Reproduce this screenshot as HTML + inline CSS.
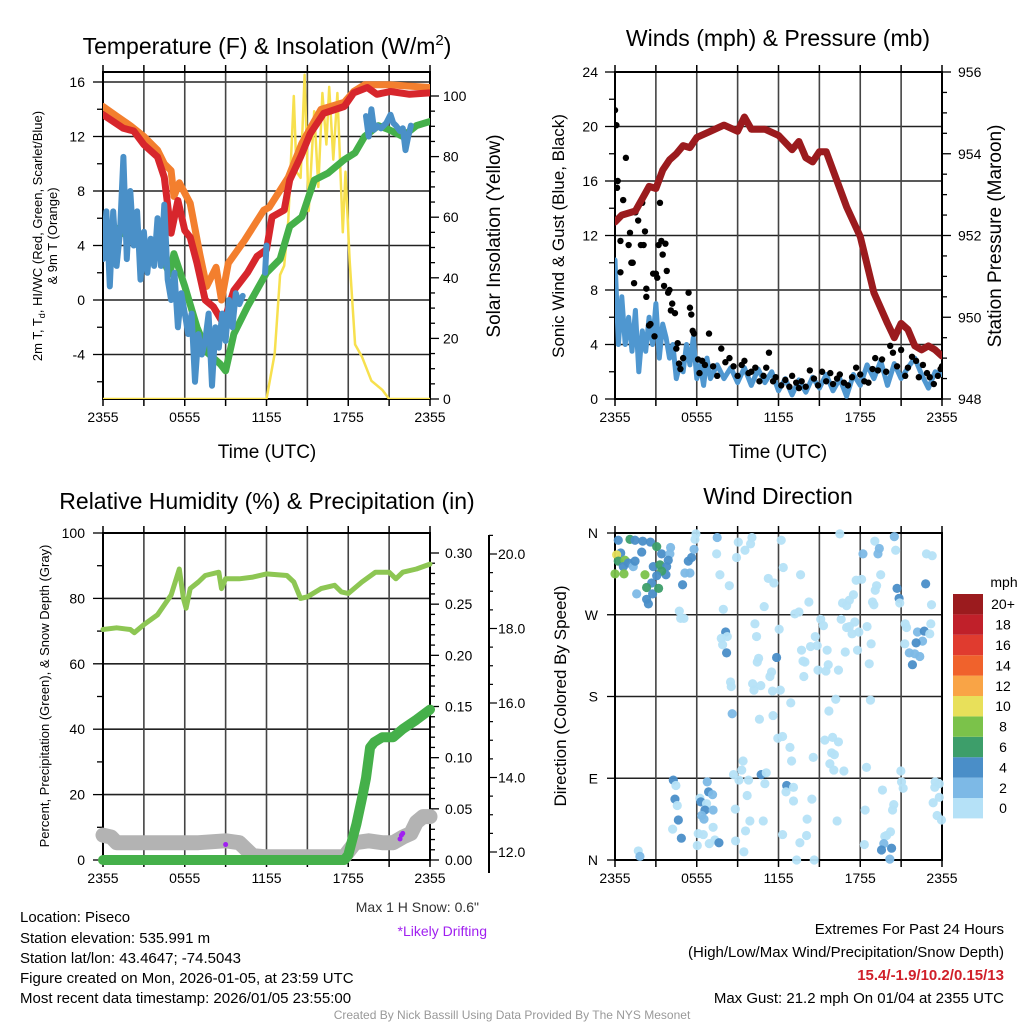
<!DOCTYPE html>
<html><head><meta charset="utf-8"><style>
html,body{margin:0;padding:0;background:#fff;}
svg{display:block;font-family:"Liberation Sans",sans-serif;}
</style></head><body>
<svg id="s" width="1024" height="1024" viewBox="0 0 1024 1024" xmlns="http://www.w3.org/2000/svg">
<g id="static">
<text x="267" y="54" font-size="23" text-anchor="middle">Temperature (F) &amp; Insolation (W/m<tspan dy="-9" font-size="15">2</tspan><tspan dy="9">)</tspan></text>
<text x="778" y="46" font-size="23" text-anchor="middle">Winds (mph) &amp; Pressure (mb)</text>
<text x="267" y="509" font-size="23" text-anchor="middle">Relative Humidity (%) &amp; Precipitation (in)</text>
<text x="778" y="504" font-size="23" text-anchor="middle">Wind Direction</text>
<text transform="translate(42,236) rotate(-90)" font-size="13" text-anchor="middle">2m T, T<tspan dy="3" font-size="9">d</tspan><tspan dy="-3">, HI/WC (Red, Green, Scarlet/Blue)</tspan></text>
<text transform="translate(57,236) rotate(-90)" font-size="13" text-anchor="middle">&amp; 9m T (Orange)</text>
<text transform="translate(500,236) rotate(-90)" font-size="19" text-anchor="middle">Solar Insolation (Yellow)</text>
<text x="267" y="458" font-size="19" text-anchor="middle">Time (UTC)</text>
<text transform="translate(564,236) rotate(-90)" font-size="17" text-anchor="middle">Sonic Wind &amp; Gust (Blue, Black)</text>
<text transform="translate(1001,236) rotate(-90)" font-size="19" text-anchor="middle">Station Pressure (Maroon)</text>
<text x="778" y="458" font-size="19" text-anchor="middle">Time (UTC)</text>
<text transform="translate(49,696) rotate(-90)" font-size="13" text-anchor="middle">Percent, Precipitation (Green), &amp; Snow Depth (Gray)</text>
<text transform="translate(566,696) rotate(-90)" font-size="17" text-anchor="middle">Direction (Colored By Speed)</text>
<text x="479" y="912" font-size="14" text-anchor="end" fill="#333">Max 1 H Snow: 0.6"</text>
<text x="487" y="936" font-size="14" text-anchor="end" fill="#a020f0">*Likely Drifting</text>
<g font-size="15">
<text x="20" y="922">Location: Piseco</text>
<text x="20" y="943">Station elevation: 535.991 m</text>
<text x="20" y="963">Station lat/lon: 43.4647; -74.5043</text>
<text x="20" y="983">Figure created on Mon, 2026-01-05, at 23:59 UTC</text>
<text x="20" y="1003">Most recent data timestamp: 2026/01/05 23:55:00</text>
</g>
<g font-size="15" text-anchor="end">
<text x="1004" y="934">Extremes For Past 24 Hours</text>
<text x="1004" y="957">(High/Low/Max Wind/Precipitation/Snow Depth)</text>
<text x="1004" y="980" fill="#d0202a" font-weight="bold">15.4/-1.9/10.2/0.15/13</text>
<text x="1004" y="1003">Max Gust: 21.2 mph On 01/04 at 2355 UTC</text>
</g>
<text x="512" y="1019" font-size="12" fill="#999" text-anchor="middle">Created By Nick Bassill Using Data Provided By The NYS Mesonet</text>
</g>
</svg>
<script>
// ---------- data ----------
const timeTickLabels = ["2355","0555","1155","1755","2355"];
const tempHours = [0,1.5,2.25,3,4,4.5,5,5.5,6,6.4,6.9,7.5,8.1,8.7,9,9.6,10.6,11.3,12,12.4,13.3,13.7,14.5,15.2,16.2,17.7,18.4,19.4,20.1,21.1,22.5,24];
const redTemp = [13.6,12.6,12.4,11.4,10.5,9.0,4.9,7.3,5.1,4.6,2.7,0,-0.5,-1.5,-1.2,0.7,2.0,3.2,3.7,6.1,6.6,8.8,10.5,12.2,13.7,14.2,15.2,15.6,15.1,15.3,15.1,15.2];
const orangeHours = [0,1,2,3,4,4.5,5,5.2,5.6,6.4,7.1,7.6,8.3,8.7,9.2,10.4,11.8,12.2,13.6,14.6,16,17.7,18.4,19.2,21,24];
const orangeTemp = [14.2,13.5,12.8,12,11,10,9.5,7.6,8.6,7.1,3.4,1.0,2.4,0.0,2.7,4.4,6.6,6.8,9.0,11.5,14,14.5,15.3,15.8,15.8,15.6];
const greenHours = [0,1.5,3,4,4.9,5.2,6,6.9,7.7,8.6,9,9.6,10.6,12,13,13.7,14.6,15.5,16.5,17.7,18.5,19.2,20.2,21,22,23,24];
const greenTemp = [5.9,4.9,3.8,3.8,1.9,3.4,1.0,-2.0,-3.9,-4.7,-5.2,-2.5,-0.5,2.0,3.0,5.4,6.1,8.8,9.3,10.3,10.8,12.0,12.8,12.5,12,12.8,13.1];
const blueTempHours = [0,.25,.5,.75,1,1.25,1.5,1.75,2,2.25,2.5,2.75,3,3.25,3.5,3.75,4,4.25,4.5,4.75,5,5.25,5.5,5.75,6,6.25,6.5,6.75,7,7.25,7.5,7.75,8,8.25,8.5,8.75,9,9.25,9.5,9.75,10,10.25,null,11.9,12,null,19.3,19.5,19.7,19.9,20.1,20.4,20.8,21.1,21.3,21.5,21.8,22.0,22.2,22.4,22.6];
const blueTemp = [3,6.5,1,6.5,2.5,5,10.5,3,8,4,6.5,1.5,5,2,4.5,2.5,6,2.5,7,1.5,0,2,-2,0.5,-1,-2.5,-1,-6,-2.5,-4,-3,-1,-6.3,-2,-3.5,-1,-3,0,-2,0.5,-0.3,0.3,null,2,4,null,13.5,12,14,12.5,12.8,12.6,13.0,13.6,13.0,12.8,12.4,12.6,11.0,12.0,12.8];
const solarHours = [0,12,12.6,13,13.3,13.6,14,14.2,14.5,14.8,15.1,15.5,15.8,16.1,16.4,16.6,16.9,17.2,17.6,17.8,18.1,18.5,19,19.7,20.5,21,24];
const solarVals = [0,0,15,41,44,59,100,75,73,107,62,95,70,101,84,103,79,101,55,75,46,18,14,6,3,0,0];

const pressHours = [0,0.5,1.5,2,2.5,3,3.5,4,4.5,5,5.5,6,7,8,9,9.5,10,11,12,13,13.5,14,14.5,15,15.5,16,17,18,19,20,20.5,21,21.5,22,22.5,23,23.5,24];
const pressVals = [952.33,952.5,952.6,952.9,953.2,953.15,953.6,953.85,954.0,954.2,954.15,954.4,954.55,954.7,954.55,954.9,954.6,954.6,954.45,954.1,954.3,953.9,953.8,954.05,954.05,953.6,952.7,951.97,950.6,949.85,949.5,949.85,949.7,949.3,949.2,949.3,949.2,949.05];
const windHours = [0,.25,.5,.75,1,1.25,1.5,1.75,2,2.25,2.5,2.75,3,3.25,3.5,3.75,4,4.25,4.5,4.75,5,5.25,5.5,5.75,6,6.25,6.5,6.75,7,7.5,8,8.5,9,9.5,10,10.5,11,11.5,12,12.5,13,13.5,14,14.5,15,15.5,16,16.5,17,17.5,18,18.5,19,19.5,20,20.5,21,21.5,22,22.5,23,23.5,24];
const windVals = [10.2,4,7.5,4,6,3.5,6.5,2,5,3.5,6,4,7,3,5.5,4.5,3,4,1.5,2.5,2,4,2.5,4.5,1.5,2.5,1,3,1.5,2.5,1.5,2.3,1.2,2.3,1,2.2,1.2,2,0.6,1.5,0.3,1.4,0.5,1.6,0.8,1.8,0.6,1.5,0.2,1.8,1.0,2.5,1.5,2.8,1.0,2.6,1.5,2.3,3.0,1.8,0.8,2.0,1.8];
const gustHours = [0,0.1,0.15,0.2,0.4,0.4,0.6,0.8,1.1,1,1.2,1.3,1.4,1.5,1.7,1.9,2.0,2.1,2.2,2.3,2.3,2.5,2.6,2.8,2.9,3.1,3.0,3.2,3.3,3.4,3.5,3.6,3.8,3.7,3.9,4.0,4.1,4.2,4.4,4.5,4.6,4.7,4.8,5.0,5.4,5.5,5.6,5.7,5.8,6.1,6.2,6.4,6.6,6.9,7.2,7.5,7.8,8.1,8.4,8.7,9.0,9.3,9.5,9.8,10,10.3,10.6,10.9,11.1,11.3,11.6,11.8,12.2,12.5,12.8,13.0,13.3,13.5,13.7,14.0,14.3,14.6,14.9,15.2,15.5,15.8,16.0,16.3,16.5,16.8,17.1,17.4,17.7,18.0,18.3,18.6,18.9,19.1,19.3,19.6,19.9,20.2,20.4,20.7,21.0,21.3,21.5,21.8,22.1,22.3,22.6,22.9,23.1,23.4,23.7,23.9,24];
const gustVals = [21.2,20.1,15.5,16,9.3,11.6,14.6,17.7,12.2,11.3,10,10,8.5,13.7,13.1,11.3,14.4,11.3,12.3,7.5,8.1,5.4,5.5,9.2,4.6,8.9,9.2,11.3,14.4,11.6,10.6,8.3,9.4,11.4,7.8,8.0,6.5,7.0,6.3,3.7,4.1,2.6,2.2,3.0,7.8,6.7,6.2,5.0,4.8,2.9,1.9,2.8,2.5,4.8,2.4,1.7,3.7,2.7,3.0,2.4,1.7,2.5,2.8,1.9,2.0,2.3,1.3,1.7,2.3,3.4,1.3,1.6,1.0,1.4,0.9,1.7,1.2,0.8,1.3,0.9,2.1,1.5,1.0,2.0,1.3,1.9,1.1,1.5,1.8,1.2,1.0,1.6,2.3,1.8,1.3,1.2,2.2,3.0,2.1,2.9,2.0,3.9,3.4,2.4,3.6,1.7,2.3,3.1,2.8,1.6,2.5,1.9,1.6,1.1,1.7,2.2,2.4];

const rhHours = [0,1,2,2.3,3,4,5,5.6,5.9,6.1,6.4,7,7.5,8.5,8.7,9,10,11,12,13.5,14,14.5,15,16,17,17.5,18,19,20,21,21.5,22,23,24];
const rhVals = [70.5,71,70.5,69.5,72,75,81,89,80,77,83,85,87,88,83,86,86,86.5,87.5,87,85,80,80.5,83,84,82,81.5,85,88,88,86,88,89,90.5];
const precipHours = [0,17.7,18,18.3,18.6,19,19.3,19.6,19.9,20.5,21.3,22,23,24];
const precipVals = [0,0,0.005,0.02,0.035,0.06,0.08,0.11,0.115,0.12,0.12,0.128,0.137,0.147];
const snowHours = [0,0.6,1,4,7,9,10,11,12,17.7,18.5,19.5,20.5,21.3,22,22.6,23,23.5,24];
const snowVals = [12.45,12.4,12.25,12.25,12.25,12.3,12.25,11.9,11.87,11.87,12.25,12.3,12.25,12.25,12.4,12.5,12.8,12.95,12.95];
const driftHours = [9,21.8,21.9,22.0];
const driftVals = [12.2,12.35,12.45,12.5];

const dirHours = [.24,1.1,1.47,2.03,2.6,3.06,3.42,4.03,4.08,1.96,.42,.12,.24,.73,.98,.61,1.34,1.47,0,.66,2.2,2.81,3.3,3.79,3.91,3.74,3.42,3.06,2.69,2.32,1.59,2.76,3.2,2.32,2.45,4.96,5.13,5.5,5.38,5.62,5.8,5.87,5.94,4.72,4.82,5.06,7.5,7.46,7.7,8.39,7.95,8.92,9.05,9.54,9.95,10.05,12.2,12.35,10.95,11.25,11.66,13.62,14.23,13.2,13.5,16.5,18.2,19.07,19.4,19.3,20.5,20.6,19.5,17.7,18.1,19.2,19.1,17.5,17.2,16.7,17.0,18.9,19.0,20.7,20.85,20.9,22.8,22.86,23.28,23.23,21.3,21.4,10.27,10.39,12.05,8.12,7.8,8.24,7.9,8.19,10.54,10.44,11.86,11.49,11.37,10.1,10.2,10.7,11.56,12.13,8.48,8.53,14.7,14.35,14.84,13.69,15.57,13.8,13.94,14.9,15.65,15.48,13.86,16.4,16.9,17.8,15.1,15.3,16.6,17.0,17.2,17.6,17.4,17.9,18.5,18.8,18.66,22.2,22.7,22.57,22.1,21.6,22.0,22.37,21.83,21.27,23.1,23.18,12.9,16.2,18.75,15.7,8.6,11.6,10.6,11.95,12.3,12.84,15.4,15.97,16.4,15.9,16.1,12.96,14.55,9.4,9.3,8.7,9.1,9.8,10.73,11.1,11.0,9.7,12.6,13.1,12.55,13.1,14.45,15.77,16.06,16.8,18.46,19.63,20.98,21.03,21.15,23.5,23.8,23.47,23.8,23.35,23.64,23.96,20.46,20.37,18.36,16.3,14.1,12.3,14.06,13.57,13.33,14.62,9.58,9.46,10.88,9.9,8.83,8.85,20.22,19.93,19.8,19.73,19.56,20.3,20.17,18.3,4.28,4.47,4.4,4.57,4.65,4.23,4.87,6.23,6.3,6.77,6.87,7.16,6.72,6.6,6.36,6.53,7.2,7.2,6.11,6.48,6.04,6.92,7.33,7.63,1.71,1.83];
const dirDegs = [352,353,352,351,350,345,337,337,344,339,338,336,329,330,327,323,323,329,315,315,314,323,325,323,330,314,318,313,305,300,293,293,299,287,282,303,316,316,329,333,342,353,359,274,266,266,355,337,314,302,276,333,350,341,348,355,352,322,279,310,305,314,284,271,273,359,337,351,343,337,356,341,314,308,309,302,297,292,286,283,280,284,281,299,288,283,304,337,335,281,260,256,260,246,254,251,244,246,237,228,222,218,223,207,202,194,187,192,186,187,196,191,246,235,236,231,231,219,218,209,215,208,202,209,229,231,265,258,265,256,257,262,249,251,257,238,216,251,252,241,239,228,227,224,215,238,249,260,173,177,176,164,161,159,155,134,136,124,132,135,130,118,116,109,113,109,99,94,88,88,94,96,84,71,82,80,75,65,67,106,99,98,102,77,98,86,79,86,84,80,69,63,49,44,61,55,55,43,45,28,27,19,0,0,32,9,43,43,56,21,31,27,26,18,11,13,1,17,88,82,67,60,44,34,24,68,64,86,75,72,62,55,49,45,55,36,29,28,16,18,22,19,10,4];
const dirSpeeds = [5,7,5,5,5,7,5,3,3,5,5,11,7,9,5,5,3,5,9,9,9,5,7,5,5,5,7,5,5,7,3,5,7,5,5,5,3,3,5,5,3,1,1,1,1,1,3,1,1,1,1,1,1,1,1,1,1,1,1,1,1,1,1,1,1,1,3,1,3,3,3,1,1,1,1,1,1,1,1,1,1,1,1,5,5,1,5,1,1,1,1,1,1,1,1,5,1,1,1,5,1,1,5,1,1,1,1,1,1,1,1,1,1,1,1,1,1,1,1,1,1,1,1,1,1,1,1,1,1,1,1,1,1,1,1,1,1,3,5,3,5,3,3,3,5,1,1,1,1,1,1,1,3,1,1,1,1,1,1,1,1,1,1,1,1,1,1,1,1,1,5,1,1,1,5,1,1,1,1,1,1,1,1,1,1,1,1,1,1,1,1,1,1,1,1,1,1,1,1,1,1,1,1,1,1,1,1,1,1,1,1,1,1,3,5,5,3,1,5,1,5,1,5,1,5,1,5,3,5,3,1,5,3,3,3,1,1,1,1,1,1,5,1,3];
const speedBins = ["0","2","4","6","8","10","12","14","16","18","20+"];
const speedColors = ["#b5e1f7","#7db9e6","#4a8ec8","#3d9e6a","#7bc24a","#e8e05a","#f9a446","#f0622c","#e03b2f","#c0202a","#9b1b1e"];

// ---------- helpers ----------
const NS="http://www.w3.org/2000/svg";
const svg=document.getElementById('s');
function el(tag,attrs,parent){const e=document.createElementNS(NS,tag);for(const k in attrs)e.setAttribute(k,attrs[k]);(parent||svg).appendChild(e);return e;}
function lin(d0,d1,r0,r1){return v=>r0+(v-d0)/(d1-d0)*(r1-r0);}
function pathFrom(xs,ys,fx,fy){let d="",pen=false;for(let i=0;i<xs.length;i++){if(xs[i]===null||ys[i]===null){pen=false;continue;}d+=(pen?"L":"M")+fx(xs[i]).toFixed(1)+","+fy(ys[i]).toFixed(1);pen=true;}return d;}
function txt(x,y,s,size,anchor,parent,fill){const t=el('text',{x:x,y:y,'font-size':size,'text-anchor':anchor||'middle',fill:fill||'#000'},parent);t.textContent=s;return t;}

function panelFrame(name,x0,x1,y0,y1){
  const g=el('g',{});
  
  
  return g;
}
function xAxis(g,x0,x1,y0,y1,fx){
  for(let h=3;h<24;h+=3){const gl=el('line',{x1:fx(h),x2:fx(h),y1:y0,y2:y1,stroke:'#444','stroke-width':1.6},g);
    
    }
  for(let h=0;h<=24;h+=3){el('line',{x1:fx(h),x2:fx(h),y1:y1,y2:y1+7,stroke:'#000','stroke-width':1.5},g);el('line',{x1:fx(h),x2:fx(h),y1:y0-7,y2:y0,stroke:'#000','stroke-width':1.5},g);}
  timeTickLabels.forEach((s,i)=>{const t=txt(fx(i*6),y1+23,s,14,'middle',g);
    
    });
}
function border(g,x0,x1,y0,y1){el('rect',{x:x0,y:y0,width:x1-x0,height:y1-y0,fill:'none',stroke:'#000','stroke-width':2},g);}

// ---------- Panel 1 ----------
(function(){
  const x0=103,x1=430,y0=72,y1=399;
  const fx=lin(0,24,x0,x1), fy=lin(0,16,300,82), fs=lin(0,100,399,96);
  const g=panelFrame('temperature-panel',x0,x1,y0,y1);
  [16,12,8,4,0,-4].forEach(v=>{const l=el('line',{x1:x0,x2:x1,y1:fy(v),y2:fy(v),stroke:'#222','stroke-width':1.6},g);
    
    });
  xAxis(g,x0,x1,y0,y1,fx);
  for(let v=-6;v<=16;v+=2){const big=v%4===0;el('line',{x1:x0-(big?10:6),x2:x0,y1:fy(v),y2:fy(v),stroke:'#000','stroke-width':1.3},g);
    if(big){const t=txt(x0-18,fy(v)+5,String(v),14,'end',g);
      
      }}
  for(let v=0;v<=100;v+=5){const big=v%20===0;el('line',{x1:x1,x2:x1+(big?9:5),y1:fs(v),y2:fs(v),stroke:'#000','stroke-width':1.3},g);
    if(big){const t=txt(x1+13,fs(v)+5,String(v),14,'start',g);
      
      }}
  const cp=el('clipPath',{id:'c1'});el('rect',{x:x0,y:y0,width:x1-x0,height:y1-y0},cp);
  const d=el('g',{'clip-path':'url(#c1)'});
  let p;
  p=el('path',{d:pathFrom(solarHours,solarVals,fx,fs),fill:'none',stroke:'#f7e04e','stroke-width':2.5,'stroke-linejoin':'round'},d);
  
  
  p=el('path',{d:pathFrom(orangeHours,orangeTemp,fx,fy),fill:'none',stroke:'#f37f2e','stroke-width':7,'stroke-linejoin':'round','stroke-linecap':'round'},d);
  
  
  p=el('path',{d:pathFrom(tempHours,redTemp,fx,fy),fill:'none',stroke:'#d7262c','stroke-width':7,'stroke-linejoin':'round','stroke-linecap':'round'},d);
  
  
  p=el('path',{d:pathFrom(greenHours,greenTemp,fx,fy),fill:'none',stroke:'#45b04a','stroke-width':7,'stroke-linejoin':'round','stroke-linecap':'round'},d);
  
  
  p=el('path',{d:pathFrom(blueTempHours,blueTemp,fx,fy),fill:'none',stroke:'#4a90c8','stroke-width':6,'stroke-linejoin':'round','stroke-linecap':'round'},d);
  
  
  border(g,x0,x1,y0,y1);
})();

// ---------- Panel 2 ----------
(function(){
  const x0=615,x1=942,y0=72,y1=399;
  const fx=lin(0,24,x0,x1), fy=lin(0,24,y1,y0), fp=lin(948,956,y1,y0);
  const g=panelFrame('wind-panel',x0,x1,y0,y1);
  [4,8,12,16,20].forEach(v=>{const l=el('line',{x1:x0,x2:x1,y1:fy(v),y2:fy(v),stroke:'#222','stroke-width':1.6},g);
    
    });
  xAxis(g,x0,x1,y0,y1,fx);
  for(let v=0;v<=24;v+=2){const big=v%4===0;el('line',{x1:x0-(big?10:6),x2:x0,y1:fy(v),y2:fy(v),stroke:'#000','stroke-width':1.3},g);
    if(big){const t=txt(x0-17,fy(v)+5,String(v),14,'end',g);
      
      }}
  for(let v=948;v<=956;v+=0.5){const big=v%2===0;el('line',{x1:x1,x2:x1+(big?9:5),y1:fp(v),y2:fp(v),stroke:'#000','stroke-width':1.3},g);
    if(big){const t=txt(x1+16,fp(v)+5,String(v),14,'start',g);
      
      }}
  const cp=el('clipPath',{id:'c2'});el('rect',{x:x0,y:y0,width:x1-x0,height:y1-y0},cp);
  const d=el('g',{'clip-path':'url(#c2)'});
  let p=el('path',{d:pathFrom(windHours,windVals,fx,fy),fill:'none',stroke:'#4f97d0','stroke-width':5,'stroke-linejoin':'round','stroke-linecap':'round'},d);
  
  
  for(let i=0;i<gustHours.length;i++){const c=el('circle',{cx:fx(gustHours[i]),cy:fy(gustVals[i]),r:3.2,fill:'#000'},d);
    
    }
  p=el('path',{d:pathFrom(pressHours,pressVals,fx,fp),fill:'none',stroke:'#9b1b1e','stroke-width':7,'stroke-linejoin':'round','stroke-linecap':'round'},d);
  
  
  border(g,x0,x1,y0,y1);
})();

// ---------- Panel 3 ----------
(function(){
  const x0=103,x1=430,y0=533,y1=860;
  const fx=lin(0,24,x0,x1), fy=lin(0,100,y1,y0), fpr=lin(0,0.30,860,553), fsn=lin(12,20,852,554);
  const g=panelFrame('humidity-panel',x0,x1,y0,y1);
  [20,40,60,80].forEach(v=>{const l=el('line',{x1:x0,x2:x1,y1:fy(v),y2:fy(v),stroke:'#222','stroke-width':1.6},g);
    
    });
  xAxis(g,x0,x1,y0,y1,fx);
  for(let v=0;v<=100;v+=10){const big=v%20===0;el('line',{x1:x0-(big?10:6),x2:x0,y1:fy(v),y2:fy(v),stroke:'#000','stroke-width':1.3},g);
    if(big){const t=txt(x0-18,fy(v)+5,String(v),14,'end',g);
      
      }}
  for(let i=0;i<=30;i++){const v=i/100;const big=i%5===0;el('line',{x1:x1,x2:x1+(big?9:5),y1:fpr(v),y2:fpr(v),stroke:'#000','stroke-width':1.3},g);
    if(big){const t=txt(x1+15,fpr(v)+5,v.toFixed(2),14,'start',g);
      
      }}
  el('line',{x1:489,x2:489,y1:535,y2:873,stroke:'#000','stroke-width':2},g);
  for(let v=12;v<=20.5;v+=0.5){const big=v%2===0;el('line',{x1:489,x2:489+(big?8:4),y1:fsn(v),y2:fsn(v),stroke:'#000','stroke-width':1.2},g);
    if(big){const t=txt(498,fsn(v)+5,v.toFixed(1),14,'start',g);
      
      }}
  const cp=el('clipPath',{id:'c3'});el('rect',{x:x0-8,y:y0,width:x1-x0+16,height:y1-y0+8},cp);
  const d=el('g',{'clip-path':'url(#c3)'});
  let p=el('path',{d:pathFrom(snowHours,snowVals,fx,fsn),fill:'none',stroke:'#b3b3b3','stroke-width':15,'stroke-linejoin':'round','stroke-linecap':'round'},d);
  
  
  p=el('path',{d:pathFrom(rhHours,rhVals,fx,fy),fill:'none',stroke:'#8dc653','stroke-width':5,'stroke-linejoin':'round','stroke-linecap':'round'},d);
  
  
  p=el('path',{d:pathFrom(precipHours,precipVals,fx,fpr),fill:'none',stroke:'#45b04a','stroke-width':10,'stroke-linejoin':'round','stroke-linecap':'round'},d);
  
  
  for(let i=0;i<driftHours.length;i++){const c=el('circle',{cx:fx(driftHours[i]),cy:fsn(driftVals[i]),r:2.5,fill:'#a020f0'},d);
    
    }
  border(g,x0,x1,y0,y1);
})();

// ---------- Panel 4 ----------
(function(){
  const x0=615,x1=942,y0=533,y1=860;
  const fx=lin(0,24,x0,x1), fy=lin(0,360,y1,y0);
  const g=panelFrame('direction-panel',x0,x1,y0,y1);
  [90,180,270].forEach(v=>{const l=el('line',{x1:x0,x2:x1,y1:fy(v),y2:fy(v),stroke:'#222','stroke-width':1.6},g);
    
    });
  xAxis(g,x0,x1,y0,y1,fx);
  ["N","E","S","W","N"].forEach((s,i)=>{el('line',{x1:x0-8,x2:x0,y1:fy(i*90),y2:fy(i*90),stroke:'#000','stroke-width':1.3},g);
    const t=txt(x0-17,fy(i*90)+5,s,14,'end',g);
    
    });
  const d=el('g',{});
  for(let i=0;i<dirHours.length;i++){const bin=Math.min(10,Math.floor(dirSpeeds[i]/2));
    const c=el('circle',{cx:fx(dirHours[i]),cy:fy(dirDegs[i]),r:4.6,fill:speedColors[bin],'fill-opacity':0.95},d);
    
    }
  border(g,x0,x1,y0,y1);
  const lg=el('g',{});
  
  
  txt(1004,587,'mph',14,'middle',lg);
  const bh=20.4;
  speedColors.forEach((c,i)=>{const yb=594+(10-i)*bh;
    const r=el('rect',{x:953,y:yb,width:30,height:bh,fill:c},lg);
    
    
    txt(1003,yb+bh/2+5,speedBins[i],14,'middle',lg);});
})();
</script>
</body></html>
